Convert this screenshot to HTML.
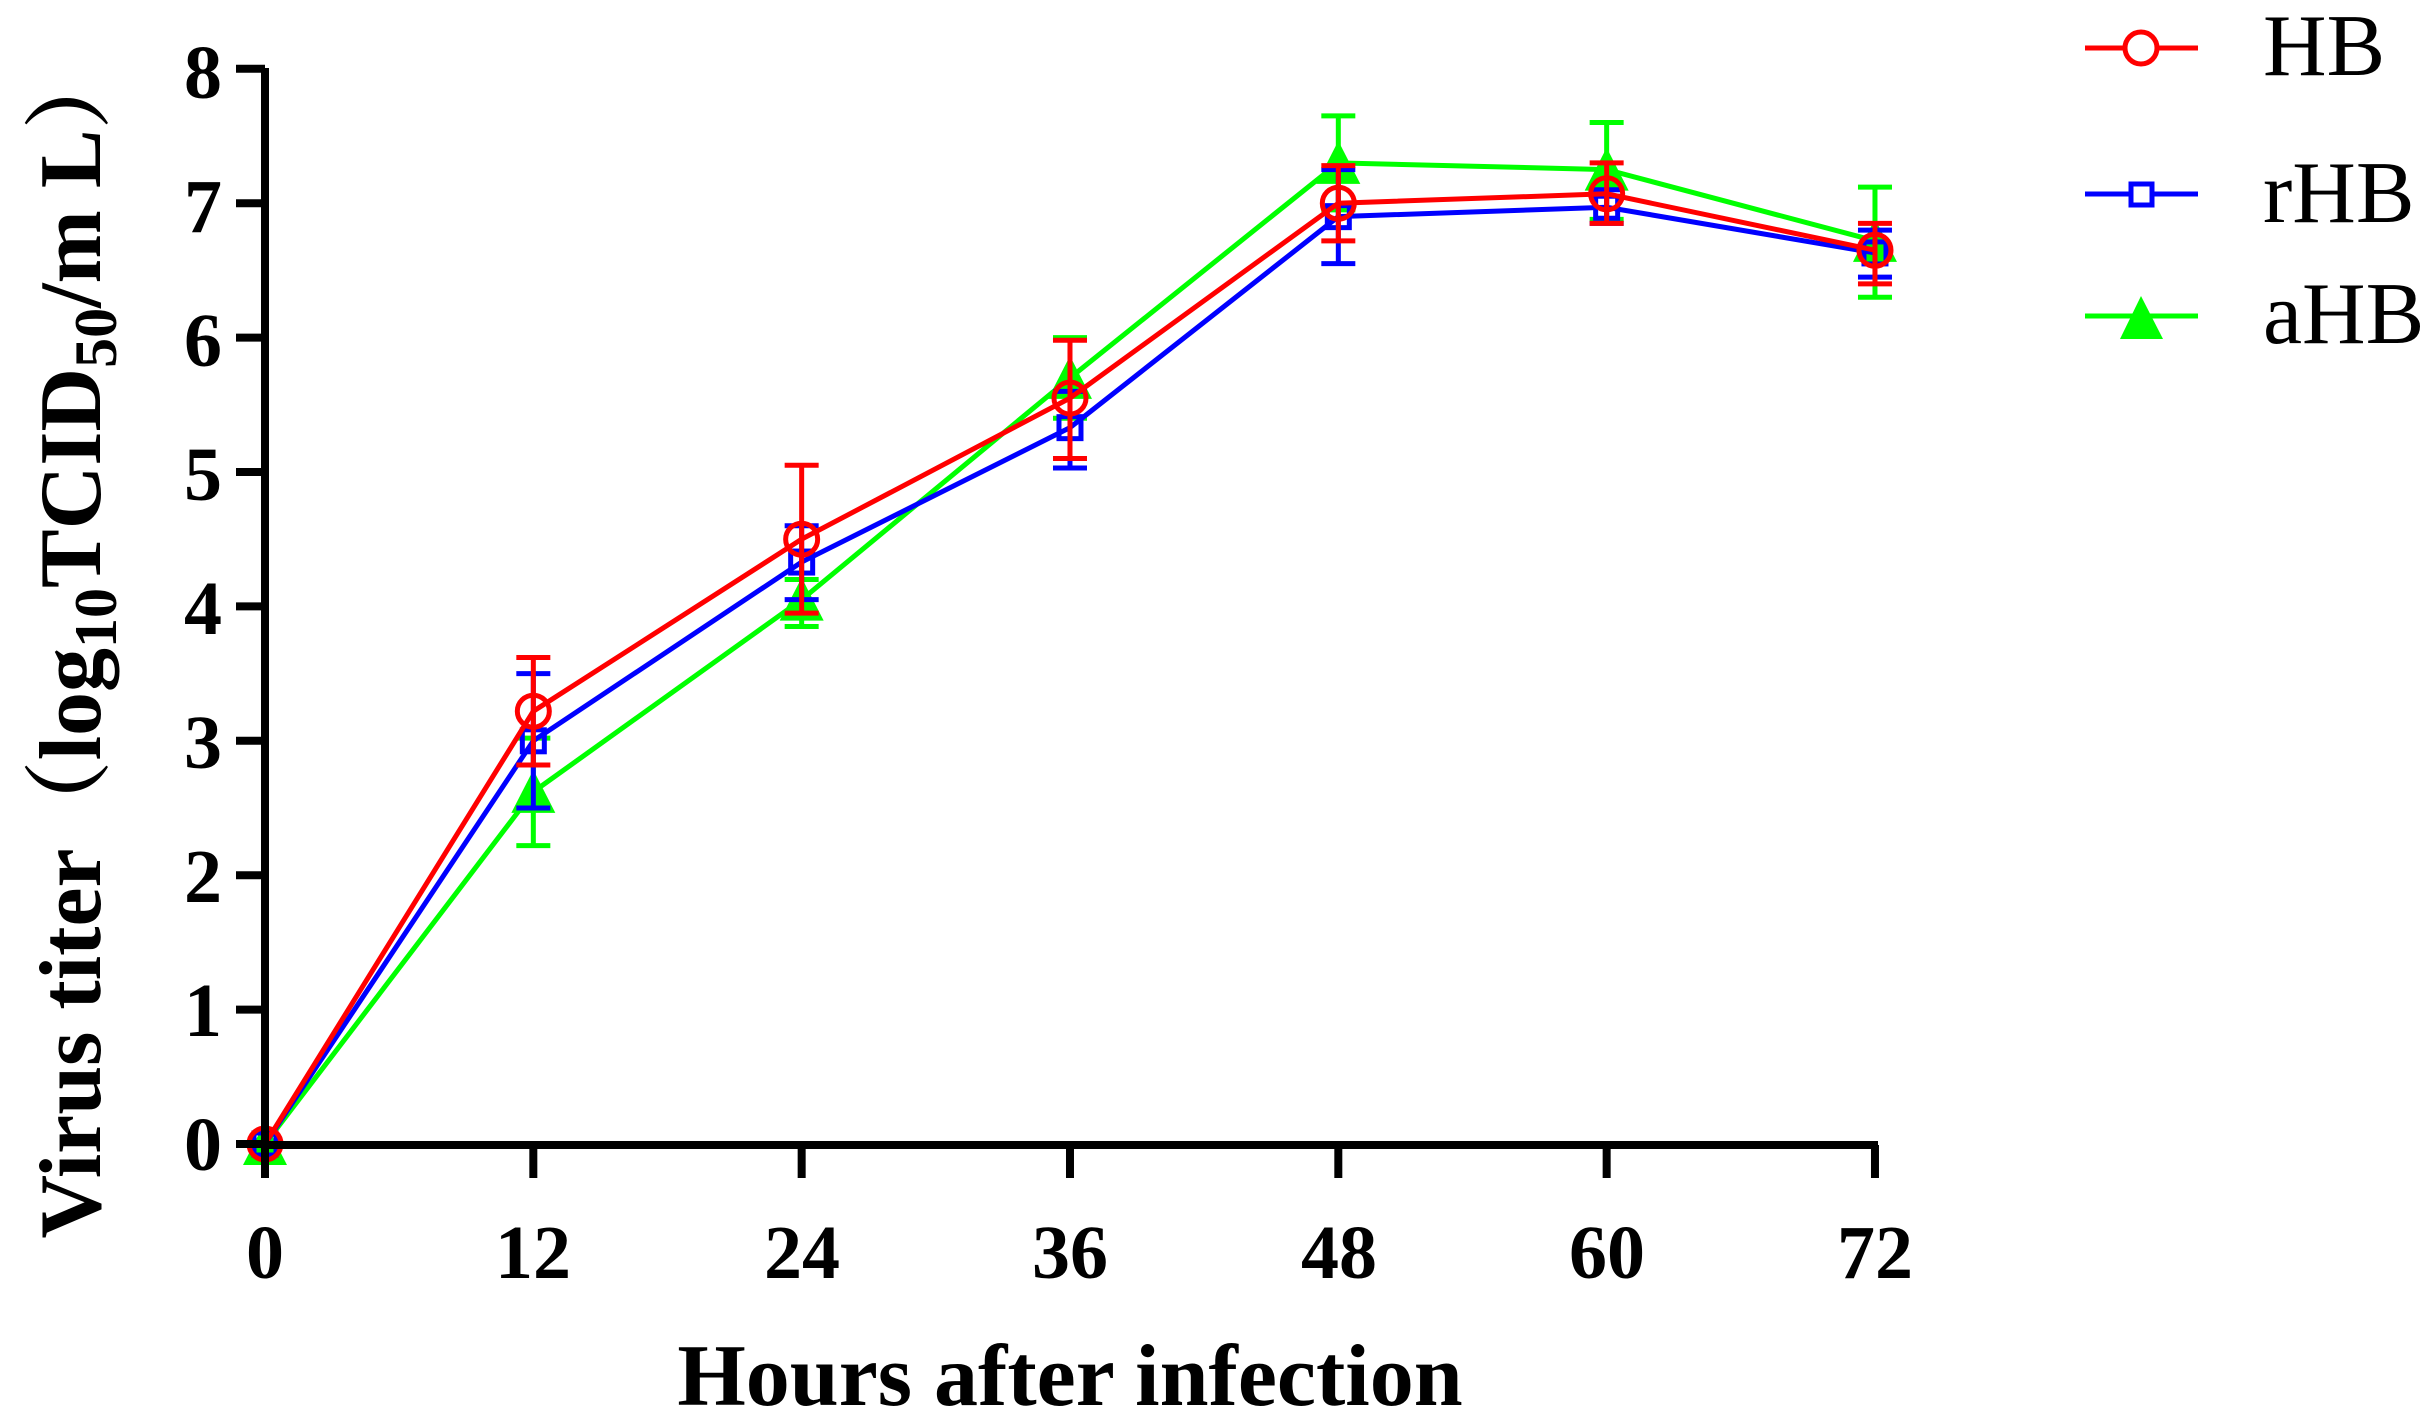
<!DOCTYPE html>
<html><head><meta charset="utf-8"><style>
html,body{margin:0;padding:0;background:#fff}
svg{display:block}
text{font-family:"Liberation Serif","Noto Serif CJK SC",serif}
</style></head><body>
<svg id="s" width="2430" height="1419" viewBox="0 0 2430 1419" xmlns="http://www.w3.org/2000/svg">
<g id="data"></g>
<g stroke="#000" stroke-width="8" fill="none">
<path d="M265,68 V1145 H1878"/>
</g>
<g id="ticks" stroke="#000" stroke-width="8"></g>
<g font-weight="bold" font-size="76" text-anchor="end">
<text x="222" y="1170">0</text>
<text x="222" y="1036">1</text>
<text x="222" y="902">2</text>
<text x="222" y="768">3</text>
<text x="222" y="634">4</text>
<text x="222" y="500">5</text>
<text x="222" y="366">6</text>
<text x="222" y="232">7</text>
<text x="222" y="98">8</text>
</g>
<g font-weight="bold" font-size="76" text-anchor="middle">
<text x="265" y="1278">0</text>
<text x="533" y="1278">12</text>
<text x="802" y="1278">24</text>
<text x="1070" y="1278">36</text>
<text x="1339" y="1278">48</text>
<text x="1607" y="1278">60</text>
<text x="1875" y="1278">72</text>
</g>
<text x="1070" y="1405" font-weight="bold" font-size="88" text-anchor="middle">Hours after infection</text>
<text transform="translate(100,640) rotate(-90)" font-weight="bold" font-size="88" text-anchor="middle">Virus titer（log<tspan font-size="60" dy="16">10</tspan><tspan dy="-16">TCID</tspan><tspan font-size="60" dy="16">50</tspan><tspan dy="-16">/m L）</tspan></text>
<g stroke-width="5" fill="none">
<line x1="2085" y1="48" x2="2198" y2="48" stroke="#f00"/>
<circle cx="2141" cy="48" r="16" stroke="#f00" fill="#fff"/>
<line x1="2085" y1="194" x2="2198" y2="194" stroke="#00f"/>
<rect x="2131" y="184" width="21" height="21" stroke="#00f" fill="#fff"/>
<line x1="2085" y1="316" x2="2198" y2="316" stroke="#0f0"/>
<polygon points="2141,296 2163,339 2120,339" fill="#0f0" stroke="none"/>
</g>
<g font-size="88">
<text x="2263" y="75">HB</text>
<text x="2263" y="222">rHB</text>
<text x="2263" y="343">aHB</text>
</g>
<script>
var X=function(i){return 265+i*268.33};var Y=function(v){return 1144-v*134.4};
var NS="http://www.w3.org/2000/svg";
function el(p,t,a){var e=document.createElementNS(NS,t);for(var k in a)e.setAttribute(k,a[k]);p.appendChild(e);return e}
var tk=document.getElementById('ticks');
for(var i=0;i<=8;i++)el(tk,'line',{x1:236,x2:265,y1:Y(i),y2:Y(i)});
for(var i=0;i<=6;i++)el(tk,'line',{x1:X(i),x2:X(i),y1:1145,y2:1178});
var S=[
{c:'#0f0',v:[0,2.62,4.05,5.7,7.3,7.25,6.72],e:[[0,0],[2.22,3.02],[3.85,4.2],[5.4,6.0],[6.95,7.65],[6.88,7.6],[6.3,7.12]],m:'tri'},
{c:'#00f',v:[0,3.0,4.33,5.33,6.9,6.97,6.63],e:[[0,0],[2.5,3.5],[4.05,4.6],[5.03,5.6],[6.55,7.25],[6.85,7.1],[6.45,6.8]],m:'sq'},
{c:'#f00',v:[0,3.22,4.5,5.55,7.0,7.07,6.65],e:[[0,0],[2.82,3.62],[3.95,5.05],[5.1,5.98],[6.72,7.28],[6.85,7.3],[6.4,6.85]],m:'ci'}];
var g=document.getElementById('data');
S.forEach(function(s){
 var d='';s.v.forEach(function(v,i){d+=(i?'L':'M')+X(i)+','+Y(v)});
 el(g,'path',{d:d,stroke:s.c,'stroke-width':5,fill:'none'});
 s.e.forEach(function(e,i){if(!i)return;var x=X(i);
  el(g,'path',{d:'M'+x+','+Y(e[0])+'V'+Y(e[1])+'M'+(x-17)+','+Y(e[0])+'h34M'+(x-17)+','+Y(e[1])+'h34',stroke:s.c,'stroke-width':5,fill:'none'});});
 s.v.forEach(function(v,i){var x=X(i),y=Y(v);
  if(s.m=='ci')el(g,'circle',{cx:x,cy:y,r:16,stroke:s.c,'stroke-width':5,fill:'none'});
  else if(s.m=='sq')el(g,'rect',{x:x-11,y:y-11,width:22,height:22,stroke:s.c,'stroke-width':5,fill:'none'});
  else el(g,'polygon',{points:x+','+(y-22)+' '+(x+22)+','+(y+21)+' '+(x-22)+','+(y+21),fill:s.c});});
});
</script>
</svg>
</body></html>
